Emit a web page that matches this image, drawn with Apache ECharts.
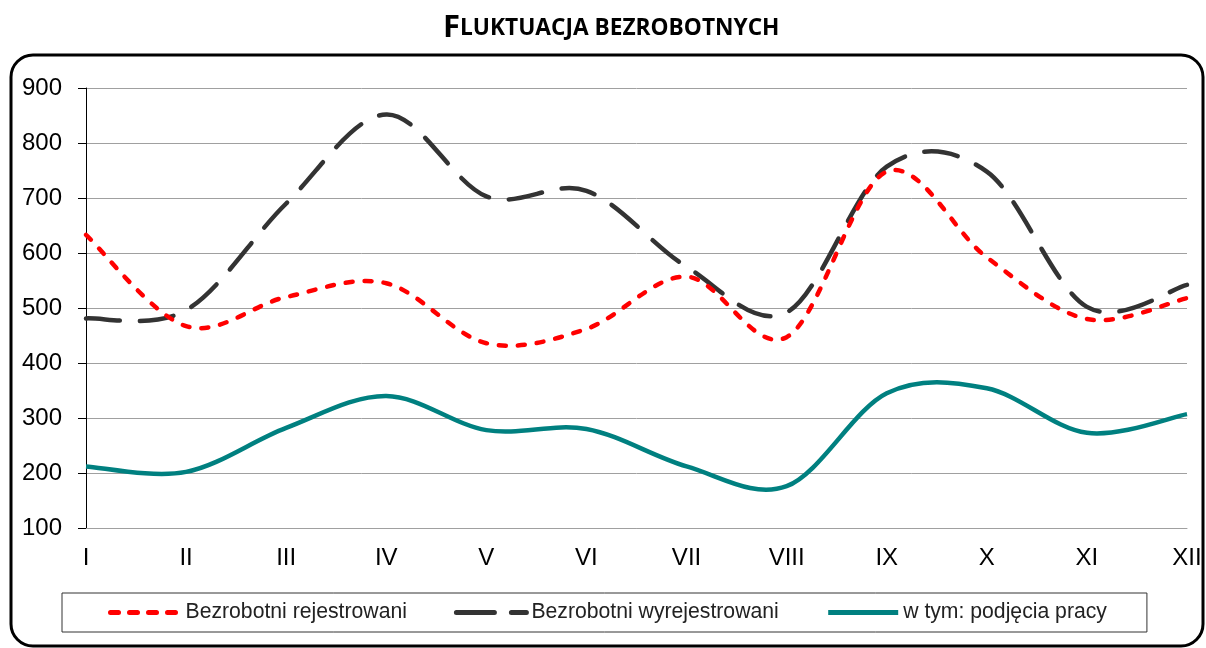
<!DOCTYPE html>
<html>
<head>
<meta charset="utf-8">
<script src="https://cdn.jsdelivr.net/npm/echarts@6/dist/echarts.min.js"></script>
<style>
html, body { margin: 0; padding: 0; background: #fff; }
#chart { width: 1206px; height: 648px; }
</style>
</head>
<body>
<div id="chart"></div>
<script>
// miesiace
var months = ['I', 'II', 'III', 'IV', 'V', 'VI', 'VII', 'VIII', 'IX', 'X', 'XI', 'XII'];
// wartosci
var rejestrowani = [633, 467, 520, 545, 436, 462, 557, 447, 748, 592, 480, 518];
var wyrejestrowani = [481, 496, 690, 852, 703, 713, 575, 492, 757, 748, 502, 542];
var podjecia = [212, 202, 282, 340, 278, 280, 212, 176, 345, 354, 273, 307];
var yTicks = { min: 100, max: 900, step: 100 };

var myChart = echarts.init(document.getElementById('chart'));

// wygladzanie jak w Excelu (Catmull-Rom), punkty przez api.coord
function smoothSeries(name, values, style, z) {
    return {
        name: name,
        type: 'custom',
        coordinateSystem: 'cartesian2d',
        data: values.map(function (v, i) { return [i, v]; }),
        encode: { x: 0, y: 1 },
        z: z,
        renderItem: function (params, api) {
            if (params.dataIndex !== 0) return null;
            var p = values.map(function (v, i) { return api.coord([i, v]); });
            var d = 'M' + p[0][0] + ' ' + p[0][1];
            for (var i = 0; i < p.length - 1; i++) {
                var p0 = p[i - 1] || p[i], p1 = p[i], p2 = p[i + 1], p3 = p[i + 2] || p[i + 1];
                var c1x = p1[0] + (p2[0] - p0[0]) / 6, c1y = p1[1] + (p2[1] - p0[1]) / 6;
                var c2x = p2[0] - (p3[0] - p1[0]) / 6, c2y = p2[1] - (p3[1] - p1[1]) / 6;
                d += ' C' + c1x + ' ' + c1y + ' ' + c2x + ' ' + c2y + ' ' + p2[0] + ' ' + p2[1];
            }
            return {
                type: 'path',
                shape: { pathData: d },
                style: style
            };
        }
    };
}

var option = {
    animation: false,
    title: {
        text: '{a|F}{b|LUKTUACJA BEZROBOTNYCH}',
        left: 438,
        top: 8,
        textStyle: {
            rich: {
                a: { fontFamily: 'Open Sans', fontWeight: 'bold', fontSize: 31, color: '#000' },
                b: { fontFamily: 'Open Sans', fontWeight: 'bold', fontSize: 22.7, color: '#000' }
            }
        }
    },
    graphic: [{
        type: 'rect',
        silent: true,
        z: -1,
        shape: { x: 11, y: 55, width: 1192, height: 591, r: 22 },
        style: { fill: 'none', stroke: '#000', lineWidth: 3 }
    }],
    grid: {
        left: 86,
        right: 19,
        top: 88,
        bottom: 120
    },
    legend: {
        left: 62,
        top: 593,
        itemWidth: 70,
        itemHeight: 14,
        itemGap: 47,
        padding: [9, 40, 9, 46],
        borderColor: '#333',
        borderWidth: 1,
        itemStyle: { opacity: 0 },
        lineStyle: { width: 5 },
        textStyle: { fontFamily: 'Liberation Sans', fontSize: 21.2, color: '#222' },
        data: ['Bezrobotni rejestrowani', 'Bezrobotni wyrejestrowani', 'w tym: podjęcia pracy']
    },
    xAxis: {
        type: 'category',
        boundaryGap: false,
        data: months,
        axisLine: { show: true, lineStyle: { color: '#a0a0a0' } },
        axisTick: { show: false },
        axisLabel: {
            interval: 0,
            margin: 18,
            fontFamily: 'Liberation Sans',
            fontSize: 24,
            color: '#000'
        }
    },
    yAxis: {
        type: 'value',
        min: yTicks.min,
        max: yTicks.max,
        interval: yTicks.step,
        axisLine: { show: true, lineStyle: { color: '#000' } },
        axisTick: { show: true, length: 8, lineStyle: { color: '#000' } },
        axisLabel: {
            margin: 24,
            fontFamily: 'Liberation Sans',
            fontSize: 24,
            color: '#000'
        },
        splitLine: { show: true, lineStyle: { color: '#a0a0a0', width: 1 } }
    },
    series: [
        // puste serie liniowe - tylko dla ikon legendy
        {
            name: 'Bezrobotni rejestrowani',
            type: 'line',
            data: [],
            symbol: 'none',
            itemStyle: { color: '#ff0000' },
            lineStyle: { color: '#ff0000', width: 5, type: [8, 11], cap: 'round' }
        },
        {
            name: 'Bezrobotni wyrejestrowani',
            type: 'line',
            data: [],
            symbol: 'none',
            itemStyle: { color: '#333333' },
            lineStyle: { color: '#333333', width: 5, type: [38, 17], cap: 'round' }
        },
        {
            name: 'w tym: podjęcia pracy',
            type: 'line',
            data: [],
            symbol: 'none',
            itemStyle: { color: '#008080' },
            lineStyle: { color: '#008080', width: 5 }
        },
        smoothSeries('Bezrobotni wyrejestrowani', wyrejestrowani,
            { fill: 'none', stroke: '#333333', lineWidth: 4.5, lineDash: [34, 20], lineCap: 'round' }, 2),
        smoothSeries('w tym: podjęcia pracy', podjecia,
            { fill: 'none', stroke: '#008080', lineWidth: 4.5 }, 2),
        smoothSeries('Bezrobotni rejestrowani', rejestrowani,
            { fill: 'none', stroke: '#ff0000', lineWidth: 4.5, lineDash: [7, 12], lineCap: 'round' }, 3)
    ]
};

myChart.setOption(option);
window.addEventListener('resize', function () {
    myChart.resize();
});
</script>
</body>
</html>
